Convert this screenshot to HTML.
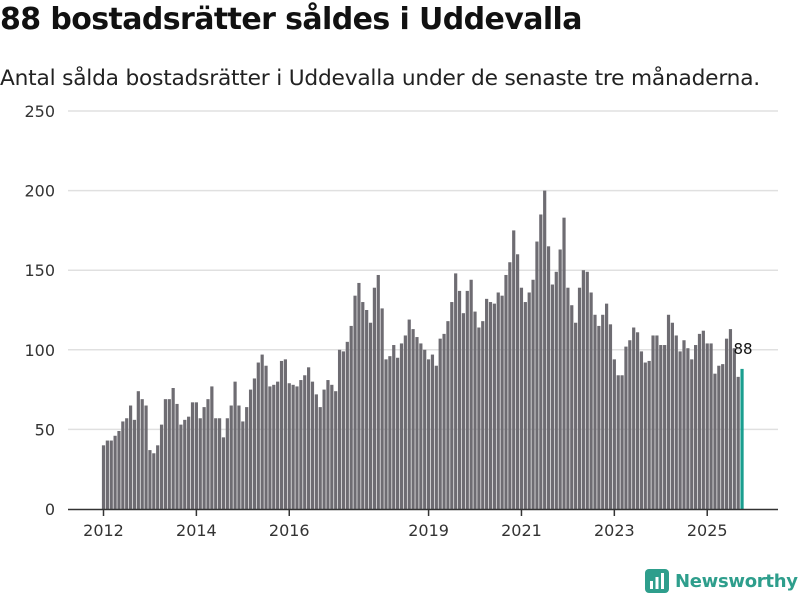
<!DOCTYPE html>
<html><head><meta charset="utf-8"><style>
body{margin:0;width:800px;height:600px;background:#fff;font-family:"Liberation Sans","DejaVu Sans",sans-serif;overflow:hidden;position:relative}
#title{position:absolute;left:0;top:2px;font-size:30px;font-weight:bold;color:#111;white-space:nowrap;font-family:"DejaVu Sans","Liberation Sans",sans-serif;letter-spacing:-0.6px}
#sub{position:absolute;left:0;top:66px;font-size:21.7px;color:#222;white-space:nowrap;font-family:"DejaVu Sans","Liberation Sans",sans-serif;letter-spacing:-0.2px}
#logo{position:absolute;left:645px;top:568px;display:flex;align-items:center;gap:6px;color:#2e9e8c;font-weight:bold;font-size:18px;font-family:"DejaVu Sans",sans-serif;letter-spacing:-0.3px}
</style></head><body>
<div id="title">88 bostadsrätter såldes i Uddevalla</div>
<div id="sub">Antal sålda bostadsrätter i Uddevalla under de senaste tre månaderna.</div>
<svg id="chart" width="800" height="600" style="position:absolute;left:0;top:0"></svg>
<div id="logo"><svg width="24" height="26" viewBox="0 0 24 26"><rect x="0" y="1" width="24" height="24" rx="4" fill="#2e9e8c"/><rect x="5" y="13" width="3" height="8" fill="#fff"/><rect x="10.5" y="9" width="3" height="12" fill="#fff"/><rect x="16" y="5" width="3" height="16" fill="#fff"/></svg><span>Newsworthy</span></div>
<script>
const values = [40,43,43,46,49,55,57,65,56,74,69,65,
37,35,40,53,69,69,76,66,53,56,58,67,
67,57,64,69,77,57,57,45,57,65,80,65,
55,64,75,82,92,97,90,77,78,80,93,94,
79,78,77,81,84,89,80,72,64,75,81,78,
74,100,99,105,115,134,142,130,125,117,139,147,
126,94,96,103,95,104,109,119,113,108,104,100,
94,97,90,107,110,118,130,148,137,123,137,144,
124,114,118,132,130,129,136,134,147,155,175,160,139,130,136,144,168,185,200,165,141,149,163,183,139,128,117,139,150,149,136,122,
115,122,129,116,94,84,84,102,106,114,111,99,92,93,109,109,103,103,122,117,109,99,106,101,94,103,110,112,104,104,85,90,91,107,113,101,83,88];
const startYear = 2012;
const yTicks = [0,50,100,150,200,250];
const xTickYears = [2012,2014,2016,2019,2021,2023,2025];
const lastLabel = "88";

const svg = document.getElementById('chart');
const NS = 'http://www.w3.org/2000/svg';
const y0 = 509, yTop = 111, vMax = 250;
const yScale = v => y0 - v * (y0 - yTop) / vMax;
const monthW = 3.87, x0 = 103.5;
const xScale = i => x0 + i * monthW;
function mk(tag, attrs){const e=document.createElementNS(NS,tag);for(const k in attrs)e.setAttribute(k,attrs[k]);svg.appendChild(e);return e;}

yTicks.forEach(t=>{
  if(t>0){const g=mk('line',{x1:68,x2:778,y1:yScale(t),y2:yScale(t),stroke:'#e0e0e0','stroke-width':1.5});
  
  }
  const l=mk('text',{x:55,y:yScale(t)+6,'text-anchor':'end','font-size':16,fill:'#333','font-family':'DejaVu Sans, sans-serif'});
  l.textContent=t;
  
  
});
values.forEach((v,i)=>{
  const last = i===values.length-1;
  const r=mk('rect',{x:xScale(i)-1.6,y:yScale(v),width:3.2,height:y0-yScale(v),fill:last?'#1a9e8f':'#6e6c72'});
  
  
});
const ax=mk('line',{x1:68,x2:778,y1:y0+0.5,y2:y0+0.5,stroke:'#333','stroke-width':1.5});


xTickYears.forEach(yr=>{
  const x=xScale((yr-startYear)*12);
  const t=mk('line',{x1:x,x2:x,y1:y0,y2:y0+7,stroke:'#333','stroke-width':1.5});
  
  
  const l=mk('text',{x:x,y:y0+27,'text-anchor':'middle','font-size':16,fill:'#333','font-family':'DejaVu Sans, sans-serif'});
  l.textContent=yr;
  
  
});
const li=values.length-1;
const lab=mk('text',{x:xScale(li)+1,y:yScale(values[li])-15,'text-anchor':'middle','font-size':15,fill:'#111','font-family':'DejaVu Sans, sans-serif'});
lab.textContent=lastLabel;


</script>
</body></html>
